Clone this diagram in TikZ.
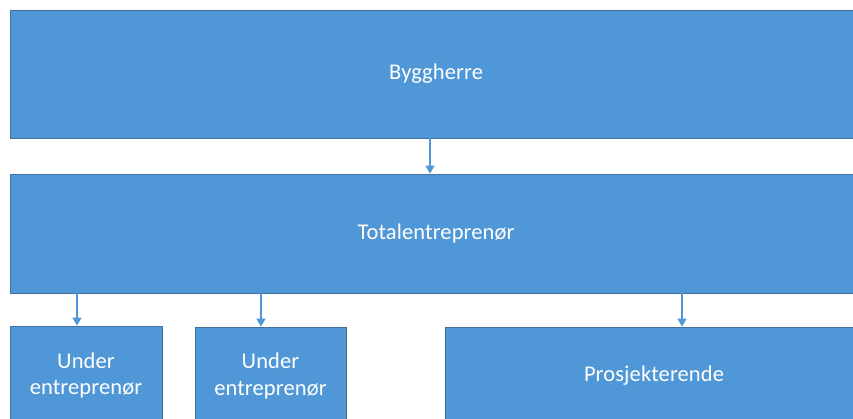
\documentclass[tikz,border=0pt]{standalone}
\usepackage{fontspec}
\setmainfont{Carlito}[LetterSpace=0.5]
\usetikzlibrary{arrows.meta}
\definecolor{boxfill}{HTML}{4F97D6}
\definecolor{boxedge}{HTML}{41719C}
\tikzset{
  orgbox/.style={draw=boxedge, line width=0.8pt, fill=boxfill, text=white,
    inner sep=0pt, font=\fontsize{22.5}{26}\selectfont, align=center},
  link/.style={draw=boxfill, line width=1.4pt,
    -{Triangle[width=9pt,length=8pt]}}
}
\begin{document}
\begin{tikzpicture}[x=1pt, y=-1pt]
  \useasboundingbox (0,0) rectangle (853,419);
  \clip (0,0) rectangle (853,419);
  % top level
  \node[orgbox, minimum width=852pt, minimum height=128pt] (byg) at (436,74) {Byggherre};
  % main contractor
  \node[orgbox, minimum width=852pt, minimum height=119pt] (tot) at (436,233.5) {Totalentrepren\o r};
  % lower level
  \node[orgbox, minimum width=152pt, minimum height=98pt] (u1) at (86,375) {Under\\entrepren\o r};
  \node[orgbox, minimum width=151pt, minimum height=98pt] (u2) at (270.5,376) {Under\\entrepren\o r};
  \node[orgbox, minimum width=418pt, minimum height=98pt] (pro) at (654,376) {Prosjekterende};
  % connectors
  \draw[link] (byg.south -| 430,0) -- (tot.north -| 430,0);
  \draw[link] (tot.south -| 77,0) -- (u1.north -| 77,0);
  \draw[link] (tot.south -| 261,0) -- (u2.north -| 261,0);
  \draw[link] (tot.south -| 682,0) -- (pro.north -| 682,0);
\end{tikzpicture}
\end{document}
